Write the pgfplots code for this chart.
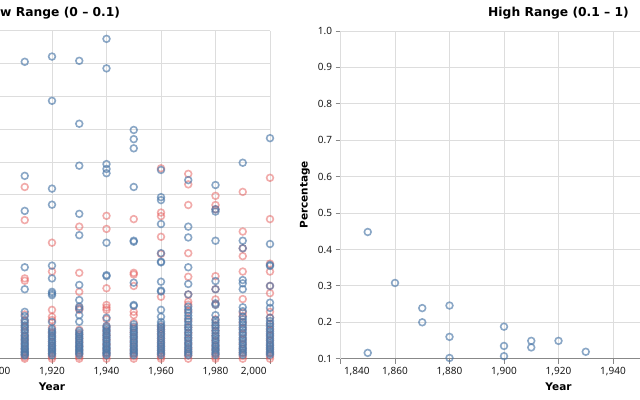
\documentclass[border=0pt]{standalone}
\usepackage{pgfplots}
\pgfplotsset{compat=1.18}
\usepackage{fontspec}
\setmainfont{Noto Sans}
\newfontfamily\boldsans{DejaVu Sans}

\definecolor{vblue}{HTML}{4C78A8}
\definecolor{vred}{HTML}{E45756}
\definecolor{gridc}{HTML}{DDDDDD}
\definecolor{axisc}{HTML}{888888}

\pgfplotsset{
  vega/.style={
    scale only axis, width=436bp, height=327.7bp,
    xmin=1840, xmax=2000, clip=false,
    axis x line*=bottom, axis y line*=left,
    axis line style={axisc, line width=1bp},
    grid=major, major grid style={gridc, line width=1bp},
    tick align=outside, major tick length=5bp,
    tick style={axisc, line width=1bp},
    /pgf/number format/assume math mode=true,
    tick label style={font=\fontsize{10bp}{12bp}\selectfont, text=black!90},
    x tick label style={/pgf/number format/1000 sep={,}},
    xlabel=Year, ylabel=Percentage,
    xlabel style={at={(axis description cs:0.5,0)}, anchor=center, yshift=-28bp,
      font=\boldsans\bfseries\fontsize{10.5bp}{13bp}\selectfont},
    ylabel style={at={(axis description cs:-0.0814,0.5)}, anchor=center,
      font=\boldsans\bfseries\fontsize{10.5bp}{13bp}\selectfont},
    title style={at={(axis description cs:0.5,1)}, anchor=center, yshift=12.3bp,
      font=\boldsans\bfseries\fontsize{12.3bp}{15bp}\selectfont},
  },
  dots/.style={only marks, mark=o, mark size=3.4bp,
    mark options={line width=1.6bp, draw=#1, draw opacity=0.65}},
  rdots/.style={only marks, mark=o, mark size=3.4bp,
    mark options={line width=1.6bp, draw=vred, draw opacity=0.5}},
}

% low range, blue series
\pgfplotstableread{
year val
1910 0.0906
1910 0.0558
1910 0.0451
1910 0.0279
1910 0.0212
1910 0.0143
1910 0.0130
1910 0.0118
1910 0.0110
1910 0.0102
1910 0.0095
1910 0.0088
1910 0.0080
1910 0.0072
1910 0.0066
1910 0.0060
1910 0.0054
1910 0.0048
1910 0.0042
1910 0.0037
1910 0.0032
1910 0.0027
1910 0.0022
1910 0.0018
1910 0.0014
1910 0.0010
1920 0.0922
1920 0.0787
1920 0.0519
1920 0.0470
1920 0.0284
1920 0.0245
1920 0.0204
1920 0.0199
1920 0.0194
1920 0.0112
1920 0.0090
1920 0.0084
1920 0.0078
1920 0.0071
1920 0.0065
1920 0.0059
1920 0.0053
1920 0.0047
1920 0.0041
1920 0.0036
1920 0.0031
1920 0.0026
1920 0.0021
1920 0.0016
1920 0.0011
1930 0.0909
1930 0.0717
1930 0.0589
1930 0.0442
1930 0.0377
1930 0.0225
1930 0.0179
1930 0.0159
1930 0.0152
1930 0.0133
1930 0.0113
1930 0.0085
1930 0.0079
1930 0.0073
1930 0.0067
1930 0.0061
1930 0.0055
1930 0.0049
1930 0.0043
1930 0.0038
1930 0.0033
1930 0.0028
1930 0.0023
1930 0.0018
1930 0.0013
1940 0.0976
1940 0.0886
1940 0.0594
1940 0.0579
1940 0.0566
1940 0.0354
1940 0.0255
1940 0.0252
1940 0.0125
1940 0.0100
1940 0.0094
1940 0.0088
1940 0.0082
1940 0.0076
1940 0.0070
1940 0.0064
1940 0.0058
1940 0.0052
1940 0.0046
1940 0.0040
1940 0.0035
1940 0.0030
1940 0.0025
1940 0.0020
1940 0.0015
1940 0.0011
1950 0.0698
1950 0.0670
1950 0.0642
1950 0.0524
1950 0.0360
1950 0.0357
1950 0.0232
1950 0.0164
1950 0.0161
1950 0.0105
1950 0.0098
1950 0.0091
1950 0.0085
1950 0.0079
1950 0.0073
1950 0.0067
1950 0.0061
1950 0.0055
1950 0.0049
1950 0.0043
1950 0.0037
1950 0.0031
1950 0.0026
1950 0.0021
1950 0.0016
1950 0.0011
1960 0.0576
1960 0.0493
1960 0.0484
1960 0.0411
1960 0.0322
1960 0.0296
1960 0.0294
1960 0.0235
1960 0.0208
1960 0.0205
1960 0.0149
1960 0.0128
1960 0.0112
1960 0.0104
1960 0.0097
1960 0.0090
1960 0.0083
1960 0.0076
1960 0.0069
1960 0.0062
1960 0.0055
1960 0.0048
1960 0.0042
1960 0.0036
1960 0.0030
1960 0.0024
1960 0.0018
1960 0.0012
1970 0.0545
1970 0.0403
1970 0.0370
1970 0.0279
1970 0.0228
1970 0.0196
1970 0.0159
1970 0.0150
1970 0.0140
1970 0.0131
1970 0.0122
1970 0.0113
1970 0.0104
1970 0.0096
1970 0.0088
1970 0.0080
1970 0.0072
1970 0.0064
1970 0.0056
1970 0.0049
1970 0.0042
1970 0.0035
1970 0.0028
1970 0.0022
1970 0.0016
1970 0.0011
1980 0.0530
1980 0.0456
1980 0.0449
1980 0.0360
1980 0.0237
1980 0.0212
1980 0.0169
1980 0.0164
1980 0.0133
1980 0.0118
1980 0.0110
1980 0.0102
1980 0.0094
1980 0.0086
1980 0.0078
1980 0.0070
1980 0.0063
1980 0.0056
1980 0.0049
1980 0.0042
1980 0.0036
1980 0.0030
1980 0.0024
1980 0.0018
1980 0.0012
1990 0.0598
1990 0.0360
1990 0.0337
1990 0.0240
1990 0.0230
1990 0.0212
1990 0.0157
1990 0.0145
1990 0.0128
1990 0.0120
1990 0.0112
1990 0.0104
1990 0.0096
1990 0.0088
1990 0.0080
1990 0.0072
1990 0.0064
1990 0.0057
1990 0.0050
1990 0.0043
1990 0.0036
1990 0.0030
1990 0.0024
1990 0.0018
1990 0.0012
2000 0.0673
2000 0.0350
2000 0.0286
2000 0.0283
2000 0.0222
2000 0.0171
2000 0.0155
2000 0.0125
2000 0.0115
2000 0.0107
2000 0.0099
2000 0.0091
2000 0.0083
2000 0.0076
2000 0.0069
2000 0.0062
2000 0.0055
2000 0.0048
2000 0.0041
2000 0.0035
2000 0.0029
2000 0.0023
2000 0.0017
2000 0.0012
}\lowblue

% low range, red series
\pgfplotstableread{
year val
1910 0.0524
1910 0.0423
1910 0.0245
1910 0.0238
1910 0.0135
1910 0.0115
1910 0.0098
1910 0.0085
1910 0.0070
1910 0.0058
1910 0.0045
1910 0.0030
1910 0.0020
1910 0.0012
1910 0.0005
1910 0.0000
1920 0.0354
1920 0.0266
1920 0.0149
1920 0.0128
1920 0.0118
1920 0.0095
1920 0.0080
1920 0.0068
1920 0.0052
1920 0.0040
1920 0.0028
1920 0.0015
1920 0.0006
1920 0.0000
1930 0.0403
1930 0.0262
1930 0.0204
1930 0.0156
1930 0.0149
1930 0.0088
1930 0.0075
1930 0.0062
1930 0.0050
1930 0.0038
1930 0.0026
1930 0.0015
1930 0.0006
1930 0.0000
1940 0.0436
1940 0.0396
1940 0.0215
1940 0.0164
1940 0.0156
1940 0.0149
1940 0.0121
1940 0.0098
1940 0.0085
1940 0.0072
1940 0.0058
1940 0.0044
1940 0.0030
1940 0.0018
1940 0.0008
1940 0.0000
1950 0.0426
1950 0.0262
1950 0.0257
1950 0.0222
1950 0.0143
1950 0.0133
1950 0.0110
1950 0.0094
1950 0.0080
1950 0.0066
1950 0.0052
1950 0.0039
1950 0.0027
1950 0.0016
1950 0.0007
1950 0.0000
1960 0.0581
1960 0.0446
1960 0.0435
1960 0.0372
1960 0.0320
1960 0.0189
1960 0.0098
1960 0.0088
1960 0.0075
1960 0.0062
1960 0.0050
1960 0.0038
1960 0.0026
1960 0.0015
1960 0.0006
1960 0.0000
1970 0.0564
1970 0.0532
1970 0.0469
1970 0.0322
1970 0.0250
1970 0.0196
1970 0.0174
1970 0.0165
1970 0.0145
1970 0.0118
1970 0.0095
1970 0.0078
1970 0.0062
1970 0.0046
1970 0.0032
1970 0.0020
1970 0.0009
1970 0.0000
1980 0.0497
1980 0.0469
1980 0.0456
1980 0.0252
1980 0.0212
1980 0.0181
1980 0.0166
1980 0.0120
1980 0.0100
1980 0.0085
1980 0.0070
1980 0.0055
1980 0.0040
1980 0.0027
1980 0.0015
1980 0.0006
1980 0.0000
1990 0.0509
1990 0.0388
1990 0.0337
1990 0.0313
1990 0.0266
1990 0.0182
1990 0.0140
1990 0.0130
1990 0.0110
1990 0.0092
1990 0.0076
1990 0.0060
1990 0.0045
1990 0.0031
1990 0.0018
1990 0.0008
1990 0.0000
2000 0.0552
2000 0.0426
2000 0.0290
2000 0.0266
2000 0.0222
2000 0.0200
2000 0.0143
2000 0.0125
2000 0.0105
2000 0.0088
2000 0.0072
2000 0.0057
2000 0.0043
2000 0.0030
2000 0.0018
2000 0.0008
2000 0.0000
}\lowred

% high range
\pgfplotstableread{
year val
1850 0.448
1850 0.116
1860 0.308
1870 0.239
1870 0.200
1880 0.246
1880 0.160
1880 0.102
1900 0.188
1900 0.135
1900 0.107
1910 0.149
1910 0.131
1920 0.149
1930 0.119
}\highblue

\begin{document}
\begin{tikzpicture}
\useasboundingbox (0,0) rectangle (640bp,400bp);
\clip (0,0) rectangle (640bp,400bp);

% left panel (partly outside the frame)
\begin{axis}[vega, at={(-166bp,41.3bp)}, anchor=south west,
    title={Low Range (0 – 0.1)},
    ymin=0, ymax=0.1, ytick={0,0.01,...,0.1},
    yticklabel style={/pgf/number format/fixed, /pgf/number format/precision=2},
    xtick={1840,1860,...,1980},
    extra x ticks={2000},
    extra x tick style={grid=major, xticklabel style={anchor=north east}},
  ]
  \addplot[rdots] table[x=year, y=val] {\lowred};
  \addplot[dots=vblue] table[x=year, y=val] {\lowblue};
\end{axis}

% right panel
\begin{axis}[vega, at={(340.5bp,41.3bp)}, anchor=south west,
    title={High Range (0.1 – 1)},
    ymin=0.1, ymax=1, ytick={0.1,0.2,...,1.0},
    yticklabel style={/pgf/number format/fixed, /pgf/number format/fixed zerofill,
      /pgf/number format/precision=1},
    xtick={1860,1880,...,2000},
    extra x ticks={1840},
    extra x tick style={grid=major, xticklabel style={anchor=north west}},
  ]
  \addplot[dots=vblue] table[x=year, y=val] {\highblue};
\end{axis}
\end{tikzpicture}
\end{document}
